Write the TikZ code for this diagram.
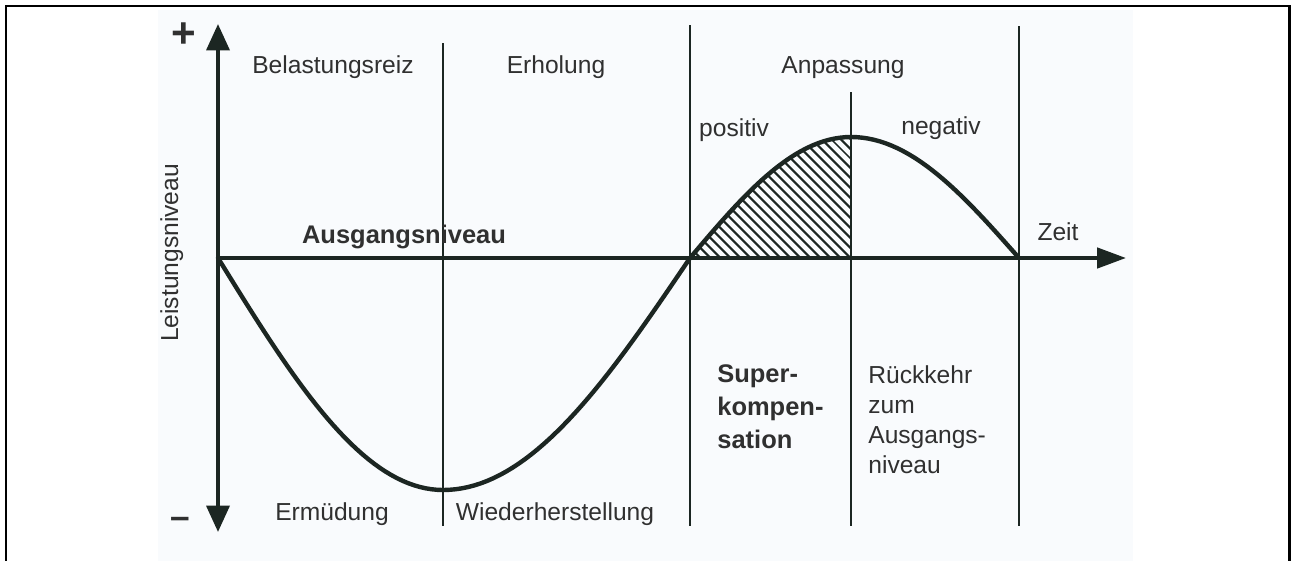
\documentclass[tikz,border=0pt]{standalone}
\usepackage{fontspec}
\setmainfont{Liberation Sans}
\usetikzlibrary{arrows.meta,patterns.meta}

\definecolor{ink}{RGB}{28,38,34}
\definecolor{txtgray}{RGB}{48,48,48}
\definecolor{scantint}{RGB}{249,251,253}

\tikzset{
  axisline/.style={ink, line width=2.3pt},
  phaseline/.style={ink, line width=1.1pt},
  curveline/.style={ink, line width=2.5pt, line join=round, line cap=round},
  lbl/.style={text=txtgray, inner sep=0pt, font=\fontsize{14}{17}\selectfont},
  boldlbl/.style={lbl, font=\fontsize{14.5}{18.5}\selectfont\bfseries},
}

\begin{document}
\begin{tikzpicture}[x=0.02cm, y=-0.02cm]
  \useasboundingbox (0,0) rectangle (1291,561);
  % Scan background and frame (open at the bottom)
  \fill[scantint] (158,10) rectangle (1133,561);
  \draw[black, line width=1.7pt] (6,561) -- (6,6) -- (1289,6) -- (1289,561);

  % Axes
  \coordinate (O) at (218,258);
  \coordinate (ytop) at (218,24);
  \coordinate (ybot) at (218,532);
  \coordinate (xend) at (1126,258);

  % Phase boundaries
  \foreach \px/\ptop in {443/43, 690/25, 851/92, 1019/26}
    \draw[phaseline] (\px,\ptop) -- (\px,526);

  % Hatched area under the positive arc
  \fill[pattern={Lines[angle=-45,distance=4pt,line width=1.35pt]}, pattern color=ink]
    (690,258) -- plot[domain=690:851, samples=40] (\x,{258-121*sin((\x-690)/161*90)})
    -- (851,258) -- cycle;

  % Axes on top
  \draw[axisline, {Triangle[length=15pt,width=13pt]}-{Triangle[length=15pt,width=13pt]}] (ybot) -- (ytop);
  \draw[axisline, -{Triangle[length=16.5pt,width=11.5pt]}] (O) -- (xend);

  % Performance curve
  \draw[curveline] plot[domain=218:443, samples=40] (\x,{258+232*sin((\x-218)/225*90)})
    -- plot[domain=443:690, samples=40] (\x,{258+232*sin((690-\x)/247*90)})
    -- plot[domain=690:851, samples=30] (\x,{258-121*sin((\x-690)/161*90)})
    -- plot[domain=851:1019, samples=30] (\x,{258-121*sin((1019-\x)/168*90)});

  % Axis labels
  \node[lbl, font=\fontsize{24}{24}\selectfont\bfseries, anchor=base] (plus) at (184,47) {+};
  \node[lbl, font=\fontsize{20}{20}\selectfont\bfseries, anchor=base] (minus) at (180,528) {–};
  \node[lbl, rotate=90, anchor=base] (ylabel) at (178,253) {Leistungsniveau};
  \node[lbl, anchor=base] (zeit) at (1058,240) {Zeit};
  \node[boldlbl, anchor=base] (ausgang) at (404,243) {Ausgangsniveau};

  % Phase labels
  \node[lbl, anchor=base] (reiz) at (333,73) {Belastungsreiz};
  \node[lbl, anchor=base] (erhol) at (556,73) {Erholung};
  \node[lbl, anchor=base] (anpass) at (843,73) {Anpassung};
  \node[lbl, anchor=base] (pos) at (734,136) {positiv};
  \node[lbl, anchor=base] (neg) at (941,134) {negativ};
  \node[lbl, anchor=base] (ermued) at (332,520) {Ermüdung};
  \node[lbl, anchor=base] (wieder) at (555,520) {Wiederherstellung};
  % multi-line texts: base is the last line
  \node[boldlbl, align=left, anchor=base west] (superk) at (717,448) {Super-\\kompen-\\sation};
  \node[lbl, align=left, anchor=base west] (rueck) at (868,473) {Rückkehr\\zum\\Ausgangs-\\niveau};
\end{tikzpicture}
\end{document}
